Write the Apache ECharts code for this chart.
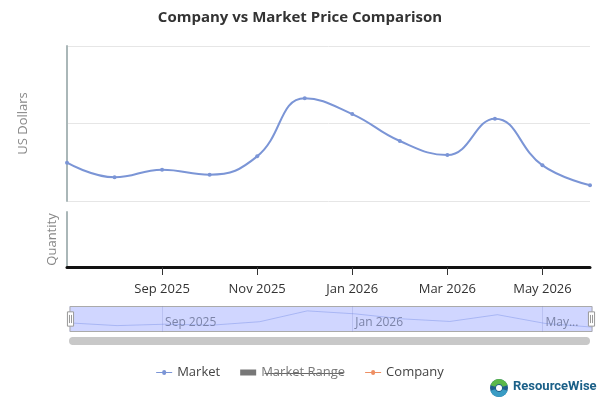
<!DOCTYPE html>
<html lang="en">
<head>
    <meta charset="utf-8">
    <script src="https://cdn.jsdelivr.net/npm/echarts@6/dist/echarts.min.js"></script>
    <style>
        html, body { margin: 0; padding: 0; background: #fff; }
        #price_map { width: 600px; height: 400px; }
    </style>
</head>
<body>
<div id="price_map"></div>
<script>
    // months on the x axis
    var months = ['Jul 2025', 'Aug 2025', 'Sep 2025', 'Oct 2025', 'Nov 2025', 'Dec 2025',
        'Jan 2026', 'Feb 2026', 'Mar 2026', 'Apr 2026', 'May 2026', 'Jun 2026'];
    // market price (usd)
    var marketPrice = [124.7, 115.3, 120.2, 117.0, 128.8, 166.3, 156.1, 138.7, 129.7, 153.1, 123.0, 110.1];
    var marketRange = [];
    var companyPrice = [];

    var myChart = echarts.init(document.getElementById('price_map'));

    var labelIdx = function (i) { return i % 2 === 0 && i > 0; };
    var zoomIdx = function (i) { return i % 4 === 2; };
    var lineIcon = 'path://M0,2.5L6,2.5A2,2 0 1 1 10,2.5L16,2.5L16,3.5L10,3.5A2,2 0 1 1 6,3.5L0,3.5Z';

    var option = {
        animation: false,
        textStyle: { fontFamily: 'Open Sans' },
        title: {
            text: 'Company vs Market Price Comparison',
            left: 'center',
            top: 5,
            textStyle: { fontSize: 15, fontWeight: 'bold', color: '#333' }
        },
        legend: {
            bottom: 16,
            left: 'center',
            itemGap: 20,
            itemWidth: 16,
            itemHeight: 6,
            textStyle: { fontSize: 13, color: '#444' },
            data: [
                { name: 'Market', icon: lineIcon },
                { name: 'Market Range', icon: 'rect' },
                { name: 'Company', icon: lineIcon }
            ],
            selected: { 'Market Range': false },
            inactiveColor: '#777'
        },
        grid: [
            { left: 67, right: 10, top: 46, height: 155 },
            { left: 67, right: 10, top: 212, height: 55 },
            { left: 67, right: 10, top: 306, height: 26 }
        ],
        xAxis: [
            {
                type: 'category', gridIndex: 0, data: months, boundaryGap: false,
                axisLine: { show: false }, axisTick: { show: false }, axisLabel: { show: false }
            },
            {
                type: 'category', gridIndex: 1, data: months, boundaryGap: false,
                axisLine: { lineStyle: { color: '#111', width: 3 } },
                axisTick: { interval: labelIdx, length: 8, lineStyle: { color: '#333' } },
                axisLabel: { interval: labelIdx, color: '#333', fontSize: 13, margin: 16 }
            },
            {
                // labels drawn inside the zoom slider
                type: 'category', gridIndex: 2, data: months, boundaryGap: false, z: 10,
                axisLine: { show: false }, axisTick: { show: false },
                axisLabel: {
                    interval: zoomIdx, inside: true, margin: 3, align: 'left', padding: [0, 0, 0, 3],
                    color: '#7c84a8', fontSize: 12,
                    formatter: function (v, i) { return i === 10 ? v.slice(0, 3) + '...' : v; }
                },
                splitLine: { show: true, interval: zoomIdx, lineStyle: { color: 'rgba(120,130,200,0.25)' } }
            }
        ],
        yAxis: [
            {
                type: 'value', gridIndex: 0, min: 100, max: 200, interval: 50,
                name: 'US Dollars', nameLocation: 'middle', nameGap: 37,
                nameTextStyle: { color: '#888', fontSize: 13 },
                axisLine: { show: true, lineStyle: { color: '#aab7b8', width: 2 } },
                axisLabel: { show: false },
                splitLine: { lineStyle: { color: '#e6e6e6' } }
            },
            {
                type: 'value', gridIndex: 1, min: 0, max: 1,
                name: 'Quantity', nameLocation: 'middle', nameGap: 8,
                nameTextStyle: { color: '#888', fontSize: 13 },
                axisLine: { show: true, lineStyle: { color: '#aab7b8', width: 2 } },
                axisLabel: { show: false },
                splitLine: { show: false }
            },
            { type: 'value', gridIndex: 2, show: false }
        ],
        dataZoom: [
            {
                type: 'slider', xAxisIndex: [0, 1], top: 306, height: 26, left: 67, right: 10,
                start: 0, end: 100, showDetail: false, moveHandleSize: 0, brushSelect: false,
                borderColor: '#aaa', borderRadius: 0,
                fillerColor: 'rgba(150,165,255,0.45)',
                handleIcon: 'path://M0,0H6V14H0Z M2,3V11 M4,3V11',
                handleSize: '55%',
                handleStyle: { color: '#fff', borderColor: '#999', borderWidth: 1 },
                dataBackground: { lineStyle: { color: '#6f8ad6', opacity: 1 }, areaStyle: { opacity: 0 } },
                selectedDataBackground: { lineStyle: { color: '#6f8ad6', opacity: 1 }, areaStyle: { opacity: 0 } }
            },
            {
                type: 'slider', xAxisIndex: [0, 1], top: 337, height: 8, left: 71, right: 14,
                start: 0, end: 100, showDetail: false, showDataShadow: false,
                moveHandleSize: 0, brushSelect: false,
                handleIcon: 'circle', handleSize: 8,
                handleStyle: { color: '#c8c8c8', borderWidth: 0 },
                borderColor: 'transparent', backgroundColor: 'transparent', borderRadius: 0,
                fillerColor: '#c8c8c8'
            }
        ],
        series: [
            {
                name: 'Market', type: 'line', xAxisIndex: 0, yAxisIndex: 0,
                data: marketPrice, smooth: 0.45, symbol: 'circle', symbolSize: 4,
                itemStyle: { color: '#7b95d6' }, lineStyle: { width: 2 }
            },
            {
                name: 'Market Range', type: 'bar', xAxisIndex: 0, yAxisIndex: 0,
                data: marketRange, itemStyle: { color: '#999' }
            },
            {
                name: 'Company', type: 'line', xAxisIndex: 0, yAxisIndex: 0,
                data: companyPrice, symbol: 'circle', symbolSize: 4,
                itemStyle: { color: '#ee8f63' }
            }
        ],
        graphic: [
            {
                type: 'group', left: 490, top: 379,
                children: [
                    { type: 'circle', shape: { cx: 10, cy: 10, r: 9 }, style: { fill: '#1f5f8b' } },
                    { type: 'sector', shape: { cx: 10, cy: 10, r: 9, r0: 4, startAngle: -Math.PI * 0.9, endAngle: -Math.PI * 0.1 }, style: { fill: '#5bb84a' } },
                    { type: 'sector', shape: { cx: 10, cy: 10, r: 9, r0: 4, startAngle: Math.PI * 0.1, endAngle: Math.PI * 0.9 }, style: { fill: '#3a9cc4' } },
                    { type: 'circle', shape: { cx: 10, cy: 10, r: 3 }, style: { fill: '#fff' } },
                    { type: 'text', x: 24, y: 2, style: { text: 'ResourceWise', font: 'bold 13px Roboto', fill: '#1b6088' } }
                ]
            },
            {
                // strike-through on the hidden legend item
                type: 'line', left: 262, top: 371,
                shape: { x1: 0, y1: 0, x2: 79, y2: 0 },
                style: { stroke: '#666', lineWidth: 1 }
            }
        ]
    };

    myChart.setOption(option);
</script>
</body>
</html>
